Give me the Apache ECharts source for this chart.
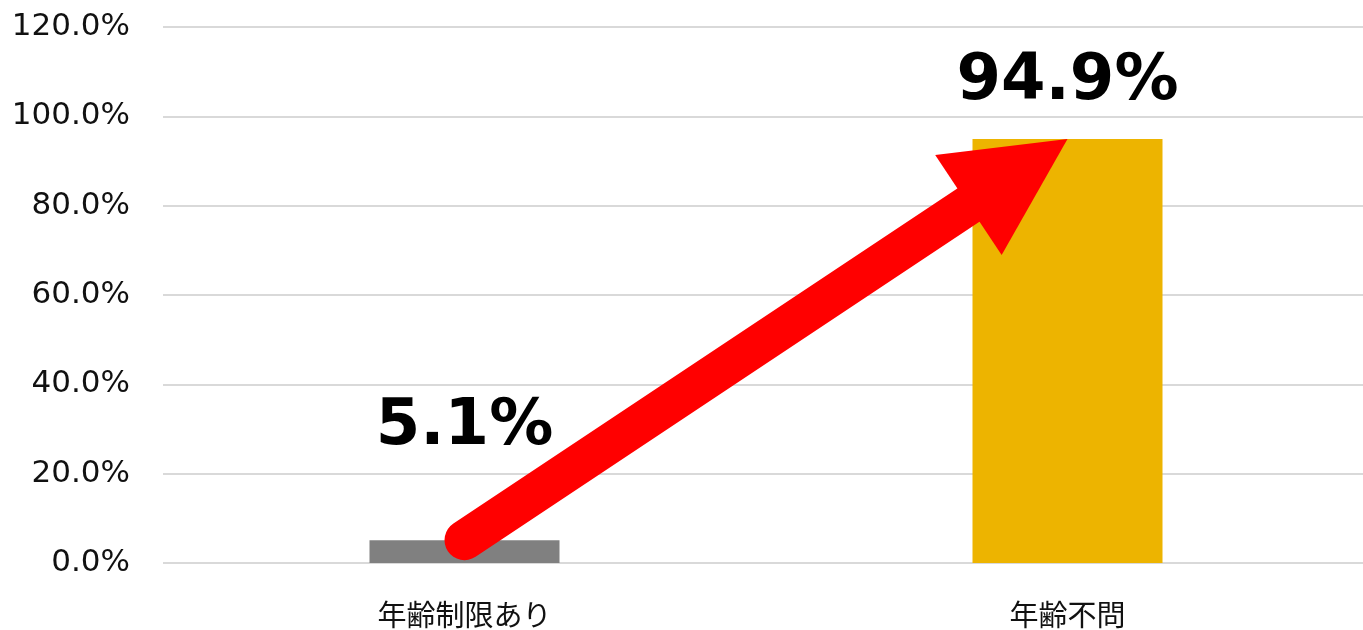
<!DOCTYPE html>
<html>
<head>
<meta charset="utf-8">
<script src="https://cdn.jsdelivr.net/npm/echarts@6/dist/echarts.min.js"></script>
<style>
  html, body { margin: 0; padding: 0; background: #fff; overflow: hidden; }
  #chart { width: 1370px; height: 630px; }
</style>
</head>
<body>
<div id="chart"></div>
<script>
// data
var categories = ['年齢制限あり', '年齢不問'];
var values = [5.1, 94.9];
var barColors = ['#808080', '#EDB400'];
var labelGaps = [81, 25];           // distance of the big % label above each bar
var arrowFrom = [0, 5.1];           // [category index, value]
var arrowTo = [1, 94.9];

var chart = echarts.init(document.getElementById('chart'));

var barData = values.map(function (v, i) {
  return {
    value: v,
    itemStyle: { color: barColors[i] },
    label: { distance: labelGaps[i] }
  };
});

// red arrow from top of first bar to top of second one
function renderArrow(params, api) {
  var p0 = api.coord([api.value(0), api.value(1)]);
  var p1 = api.coord([api.value(2), api.value(3)]);
  var dx = p1[0] - p0[0], dy = p1[1] - p0[1];
  var len = Math.sqrt(dx * dx + dy * dy);
  var ux = dx / len, uy = dy / len;
  var nx = -uy, ny = ux;
  var headLen = 119, headHalf = 60;
  var bx = p1[0] - ux * headLen, by = p1[1] - uy * headLen;
  return {
    type: 'group',
    children: [
      {
        type: 'line',
        shape: { x1: p0[0], y1: p0[1], x2: bx + ux * 4, y2: by + uy * 4 },
        style: { stroke: '#FF0000', lineWidth: 40, lineCap: 'round' }
      },
      {
        type: 'polygon',
        shape: { points: [[p1[0], p1[1]], [bx + nx * headHalf, by + ny * headHalf], [bx - nx * headHalf, by - ny * headHalf]] },
        style: { fill: '#FF0000' }
      }
    ]
  };
}

var option = {
  animation: false,
  grid: { left: 163, right: 1, top: 27, bottom: 67 },
  xAxis: {
    type: 'category',
    data: categories,
    axisLine: { show: false },
    axisTick: { show: false },
    axisLabel: {
      margin: 37,
      color: '#111',
      fontSize: 29,
      fontFamily: '"Noto Sans CJK JP", sans-serif'
    }
  },
  yAxis: {
    type: 'value',
    min: 0,
    max: 120,
    interval: 20,
    axisLine: { show: false },
    axisTick: { show: false },
    axisLabel: {
      margin: 33,
      color: '#111',
      fontSize: 31,
      fontFamily: '"DejaVu Sans", sans-serif',
      formatter: function (v) { return v.toFixed(1) + '%'; }
    },
    splitLine: { lineStyle: { color: '#d9d9d9', width: 2 } }
  },
  series: [
    {
      type: 'bar',
      barWidth: 190,
      data: barData,
      label: {
        show: true,
        position: 'top',
        formatter: '{c}%',
        color: '#000',
        fontSize: 64,
        fontWeight: 'bold',
        fontFamily: '"DejaVu Sans", sans-serif'
      }
    },
    {
      type: 'custom',
      clip: false,
      z: 5,
      encode: { x: [0, 2], y: [1, 3] },
      data: [[arrowFrom[0], arrowFrom[1], arrowTo[0], arrowTo[1]]],
      renderItem: renderArrow
    }
  ]
};

chart.setOption(option);
</script>
</body>
</html>
